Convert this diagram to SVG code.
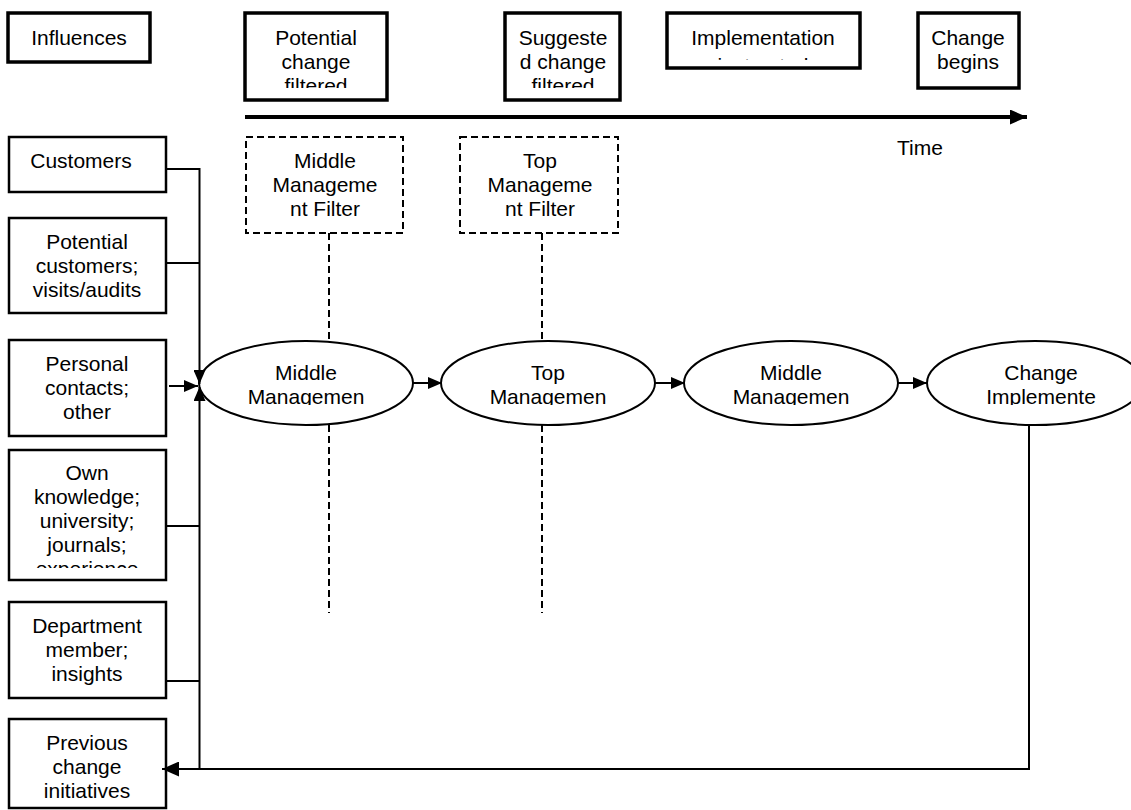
<svg xmlns="http://www.w3.org/2000/svg" width="1131" height="810" viewBox="0 0 1131 810">
  <style>
    .t { font-family: "Liberation Sans", Arial, sans-serif; font-size: 21px; text-anchor: middle; fill: #000; }
    .hdr { fill: #fff; stroke: #000; stroke-width: 3.5; }
    .box { fill: #fff; stroke: #000; stroke-width: 2.5; }
    .flt { fill: #fff; stroke: #000; stroke-width: 2; stroke-dasharray: 7 4; }
    .ell { fill: #fff; stroke: #000; stroke-width: 2; }
    .ln { fill: none; stroke: #000; stroke-width: 2; }
    .dash { fill: none; stroke: #000; stroke-width: 2; stroke-dasharray: 7 4; }
  </style>
  <defs>
    <marker id="ah" viewBox="0 0 14 12" refX="14" refY="6" markerWidth="14" markerHeight="12" markerUnits="userSpaceOnUse" orient="auto">
      <path d="M0,0 L14,6 L0,12 Z" fill="#000"/>
    </marker>
    <marker id="ahBig" viewBox="0 0 17 15" refX="17" refY="7.5" markerWidth="17" markerHeight="15" markerUnits="userSpaceOnUse" orient="auto">
      <path d="M0,0 L17,7.5 L0,15 Z" fill="#000"/>
    </marker>
    <clipPath id="cPot"><rect x="245" y="13" width="142" height="75"/></clipPath>
    <clipPath id="cSug"><rect x="505" y="13" width="115" height="75"/></clipPath>
    <clipPath id="cImp"><rect x="667" y="13" width="193" height="47"/></clipPath>
    <clipPath id="cOwn"><rect x="9" y="450" width="157" height="118"/></clipPath>
    <clipPath id="cE1"><rect x="199" y="341" width="214" height="64"/></clipPath>
    <clipPath id="cE2"><rect x="442" y="341" width="214" height="64"/></clipPath>
    <clipPath id="cE3"><rect x="685" y="341" width="214" height="64"/></clipPath>
    <clipPath id="cE4"><rect x="927" y="341" width="204" height="64"/></clipPath>
  </defs>

  <rect width="1131" height="810" fill="#fff"/>

  <!-- timeline header -->
  <g id="influences">
    <rect class="hdr" x="8" y="13" width="142" height="49"/>
    <text class="t" x="79" y="45">Influences</text>
  </g>
  <g id="potential-change">
    <rect class="hdr" x="245" y="13" width="142" height="87"/>
    <g clip-path="url(#cPot)">
      <text class="t" x="316" y="45">Potential</text>
      <text class="t" x="316" y="69">change</text>
      <text class="t" x="316" y="93">filtered</text>
    </g>
  </g>
  <g id="suggested-change">
    <rect class="hdr" x="505" y="13" width="115" height="87"/>
    <g clip-path="url(#cSug)">
      <text class="t" x="563" y="45">Suggeste</text>
      <text class="t" x="563" y="69">d change</text>
      <text class="t" x="563" y="93">filtered</text>
    </g>
  </g>
  <g id="implementation">
    <rect class="hdr" x="667" y="13" width="193" height="55"/>
    <g clip-path="url(#cImp)">
      <text class="t" x="763" y="45">Implementation</text>
      <text class="t" x="763" y="73">instructed</text>
    </g>
  </g>
  <g id="change-begins">
    <rect class="hdr" x="918" y="13" width="101" height="75"/>
    <text class="t" x="968" y="45">Change</text>
    <text class="t" x="968" y="69">begins</text>
  </g>
  <g id="time-axis">
    <line x1="245" y1="117" x2="1027" y2="117" stroke="#000" stroke-width="4" marker-end="url(#ahBig)"/>
    <text class="t" x="920" y="155">Time</text>
  </g>

  <!-- filters -->
  <g id="middle-filter">
    <rect class="flt" x="246" y="137" width="157" height="96"/>
    <text class="t" x="325" y="168">Middle</text>
    <text class="t" x="325" y="192">Manageme</text>
    <text class="t" x="325" y="216">nt Filter</text>
  </g>
  <g id="top-filter">
    <rect class="flt" x="460" y="137" width="158" height="96"/>
    <text class="t" x="540" y="168">Top</text>
    <text class="t" x="540" y="192">Manageme</text>
    <text class="t" x="540" y="216">nt Filter</text>
  </g>

  <!-- influence sources -->
  <g id="customers">
    <rect class="box" x="9" y="137" width="157" height="55"/>
    <text class="t" x="81" y="168">Customers</text>
  </g>
  <g id="potential-customers">
    <rect class="box" x="9" y="218" width="157" height="95"/>
    <text class="t" x="87" y="249">Potential</text>
    <text class="t" x="87" y="273">customers;</text>
    <text class="t" x="87" y="297">visits/audits</text>
  </g>
  <g id="personal-contacts">
    <rect class="box" x="9" y="340" width="157" height="96"/>
    <text class="t" x="87" y="371">Personal</text>
    <text class="t" x="87" y="395">contacts;</text>
    <text class="t" x="87" y="419">other</text>
  </g>
  <g id="own-knowledge">
    <rect class="box" x="9" y="450" width="157" height="130"/>
    <g clip-path="url(#cOwn)">
      <text class="t" x="87" y="480">Own</text>
      <text class="t" x="87" y="504">knowledge;</text>
      <text class="t" x="87" y="528">university;</text>
      <text class="t" x="87" y="552">journals;</text>
      <text class="t" x="87" y="576">experience</text>
    </g>
  </g>
  <g id="department-member">
    <rect class="box" x="9" y="602" width="157" height="96"/>
    <text class="t" x="87" y="633">Department</text>
    <text class="t" x="87" y="657">member;</text>
    <text class="t" x="87" y="681">insights</text>
  </g>
  <g id="previous-initiatives">
    <rect class="box" x="9" y="719" width="157" height="89"/>
    <text class="t" x="87" y="750">Previous</text>
    <text class="t" x="87" y="774">change</text>
    <text class="t" x="87" y="798">initiatives</text>
  </g>

  <!-- process stages -->
  <g id="middle-management-1">
    <ellipse class="ell" cx="306" cy="383" rx="107" ry="42"/>
    <g clip-path="url(#cE1)">
      <text class="t" x="306" y="380">Middle</text>
      <text class="t" x="306" y="404">Managemen</text>
    </g>
  </g>
  <g id="top-management">
    <ellipse class="ell" cx="548" cy="383" rx="107" ry="42"/>
    <g clip-path="url(#cE2)">
      <text class="t" x="548" y="380">Top</text>
      <text class="t" x="548" y="404">Managemen</text>
    </g>
  </g>
  <g id="middle-management-2">
    <ellipse class="ell" cx="791" cy="383" rx="107" ry="42"/>
    <g clip-path="url(#cE3)">
      <text class="t" x="791" y="380">Middle</text>
      <text class="t" x="791" y="404">Managemen</text>
    </g>
  </g>
  <g id="change-implemented">
    <ellipse class="ell" cx="1035" cy="383" rx="108" ry="42"/>
    <g clip-path="url(#cE4)">
      <text class="t" x="1041" y="380">Change</text>
      <text class="t" x="1041" y="404">Implemente</text>
    </g>
  </g>

  <!-- connectors -->
  <g id="connectors">
    <!-- sources feeding the bus -->
    <line class="ln" x1="166" y1="169" x2="199.5" y2="169"/>
    <line class="ln" x1="166" y1="263" x2="199.5" y2="263"/>
    <line class="ln" x1="166" y1="526" x2="199.5" y2="526"/>
    <line class="ln" x1="166" y1="681" x2="199.5" y2="681"/>
    <line class="ln" x1="199.5" y1="168" x2="199.5" y2="384" marker-end="url(#ah)"/>
    <line class="ln" x1="199.5" y1="769" x2="199.5" y2="387" marker-end="url(#ah)"/>
    <line class="ln" x1="169" y1="386" x2="198" y2="386" marker-end="url(#ah)"/>
    <!-- stage to stage -->
    <line class="ln" x1="413" y1="383" x2="442" y2="383" marker-end="url(#ah)"/>
    <line class="ln" x1="655" y1="383" x2="685" y2="383" marker-end="url(#ah)"/>
    <line class="ln" x1="898" y1="383" x2="927" y2="383" marker-end="url(#ah)"/>
    <!-- feedback loop -->
    <polyline class="ln" points="1029,425 1029,769 162,769" marker-end="url(#ahBig)"/>
    <!-- filter guides -->
    <line class="dash" x1="329" y1="233" x2="329" y2="341"/>
    <line class="dash" x1="329" y1="425" x2="329" y2="613"/>
    <line class="dash" x1="542" y1="233" x2="542" y2="341"/>
    <line class="dash" x1="542" y1="425" x2="542" y2="613"/>
  </g>
</svg>
